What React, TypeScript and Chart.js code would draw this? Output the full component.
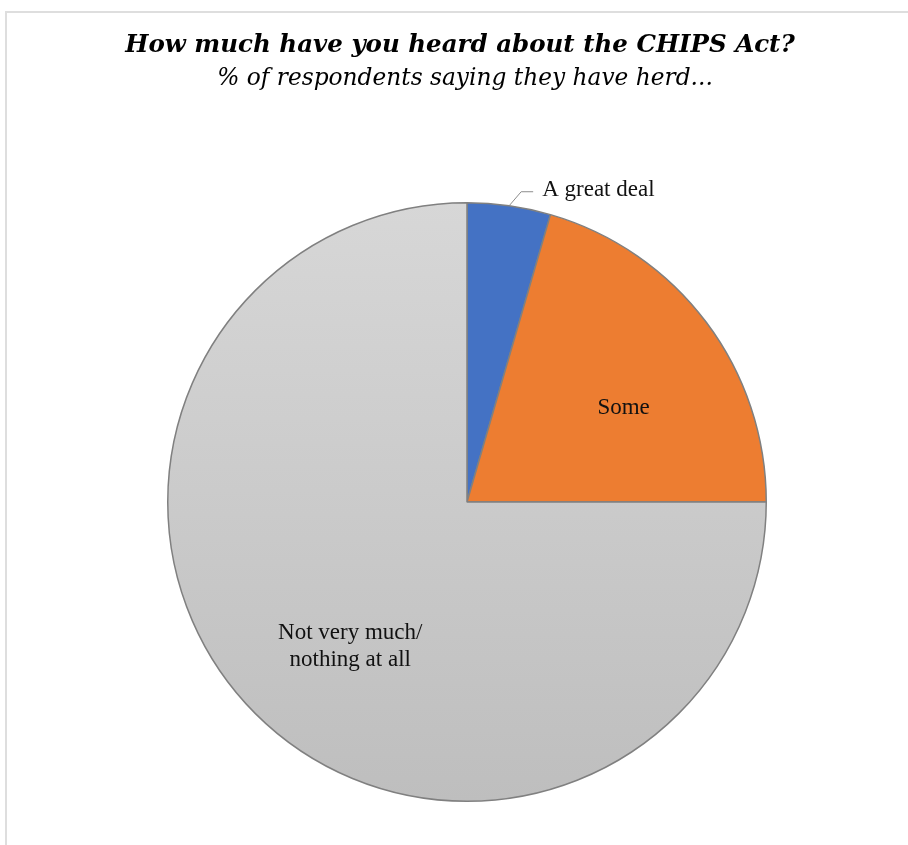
import React, { useEffect, useRef } from "react";
import { Chart, registerables } from "chart.js";

Chart.register(...registerables);

// ---- data ----
const categories = ["A great deal", "Some", "Not very much/nothing at all"];
const labelLines = [["A great deal"], ["Some"], ["Not very much/", "nothing at all"]];
const shares = [4.5, 20.5, 75];
const titleText = "How much have you heard about the CHIPS Act?";
const subtitleText = "% of respondents saying they have herd...";

// ---- styles ----
const sliceColors = ["#4472c4", "#ed7d31", "#c8c8c8"];
const greyTop = "#d7d7d7";
const greyBottom = "#bebebe";
const labelPlacement = [
  { outside: true, r: 1, turn: 0 },
  { outside: false, r: 0.61, turn: 6 },
  { outside: false, r: 0.62, turn: -6 },
];

const W = 908;
const H = 845;

const titlePlugin = {
  id: "customTitles",
  afterDraw(chart: any) {
    const ctx = chart.ctx;
    ctx.save();
    ctx.fillStyle = "#000";
    ctx.textAlign = "center";
    ctx.textBaseline = "middle";
    ctx.font = 'bold italic 24.5px "DejaVu Serif"';
    ctx.fillText(titleText, 460, 46);
    ctx.font = 'italic 23.3px "DejaVu Serif"';
    ctx.fillText(subtitleText, 465, 79);
    ctx.restore();
  },
};

const labelPlugin = {
  id: "sliceLabels",
  afterDatasetsDraw(chart: any) {
    const ctx = chart.ctx;
    const meta = chart.getDatasetMeta(0);
    ctx.save();
    ctx.fillStyle = "#111";
    ctx.font = '23px "Liberation Serif"';
    ctx.textBaseline = "middle";
    meta.data.forEach((arc: any, i: number) => {
      const p = arc.getProps(["x", "y", "startAngle", "endAngle", "outerRadius"], true);
      const mid = (p.startAngle + p.endAngle) / 2;
      const place = labelPlacement[i];
      const lines = labelLines[i];
      if (place.outside) {
        const sx = p.x + Math.cos(mid) * p.outerRadius;
        const sy = p.y + Math.sin(mid) * p.outerRadius;
        const ex = sx + 12;
        const ey = sy - 14;
        ctx.strokeStyle = "#8c8c8c";
        ctx.lineWidth = 1;
        ctx.beginPath();
        ctx.moveTo(sx, sy);
        ctx.lineTo(ex, ey);
        ctx.lineTo(ex + 12, ey);
        ctx.stroke();
        ctx.textAlign = "left";
        ctx.fillText(lines[0], ex + 21, ey - 2);
      } else {
        const a = mid + (place.turn * Math.PI) / 180;
        const r = p.outerRadius * place.r;
        const cx = p.x + Math.cos(a) * r;
        const cy = p.y + Math.sin(a) * r;
        ctx.textAlign = "center";
        const lh = 27;
        const y0 = cy - ((lines.length - 1) * lh) / 2;
        lines.forEach((t, k) => ctx.fillText(t, cx, y0 + k * lh));
      }
    });
    ctx.restore();
  },
};

export default function App() {
  const ref = useRef<HTMLCanvasElement | null>(null);

  useEffect(() => {
    if (!ref.current) return;
    const chart = new Chart(ref.current, {
      type: "pie",
      data: {
        labels: categories,
        datasets: [
          {
            data: shares,
            backgroundColor: (c: any) => {
              const idx = c.dataIndex;
              if (idx !== 2) return sliceColors[idx];
              const area = c.chart.chartArea;
              if (!area) return sliceColors[2];
              const g = c.chart.ctx.createLinearGradient(0, area.top, 0, area.bottom);
              g.addColorStop(0, greyTop);
              g.addColorStop(1, greyBottom);
              return g;
            },
            borderColor: "#808080",
            borderWidth: 1.5,
          },
        ],
      },
      options: {
        responsive: false,
        animation: false,
        layout: { padding: { left: 167, right: 141, top: 202, bottom: 43 } },
        plugins: {
          legend: { display: false },
          tooltip: { enabled: false },
          title: { display: false },
        },
      },
      plugins: [labelPlugin, titlePlugin],
    } as any);
    return () => chart.destroy();
  }, []);

  return (
    <div
      style={{
        position: "absolute",
        left: 0,
        top: 0,
        width: W,
        height: H,
        overflow: "hidden",
        background: "#fff",
      }}
    >
      <div
        style={{
          position: "absolute",
          left: 5,
          top: 11,
          width: W,
          height: H,
          borderTop: "2px solid #dedede",
          borderLeft: "2px solid #dedede",
        }}
      />
      <canvas
        ref={ref}
        width={W}
        height={H}
        style={{ position: "absolute", left: 0, top: 0, width: W, height: H }}
      />
    </div>
  );
}
